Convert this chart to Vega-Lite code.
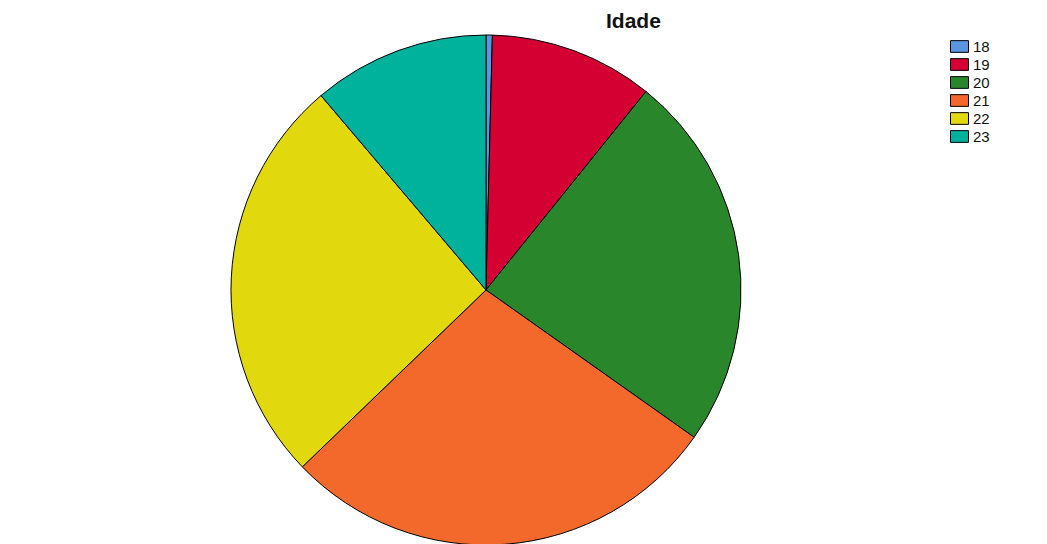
{
  "$schema": "https://vega.github.io/schema/vega-lite/v6.json",
  "autosize": "none",
  "width": 972,
  "height": 510,
  "padding": {"left": 0, "top": 35, "right": 75, "bottom": 0},
  "background": "white",
  "config": {"view": {"stroke": null}, "font": "Liberation Sans"},
  "title": {
    "text": "Idade",
    "anchor": "start",
    "dx": 606,
    "dy": 23,
    "fontSize": 21,
    "fontWeight": "bold",
    "font": "Liberation Sans",
    "color": "#111111",
    "baseline": "alphabetic",
    "offset": 7
  },
  "data": {
    "values": [
      {"idade": "18", "n": 1},
      {"idade": "19", "n": 26},
      {"idade": "20", "n": 60},
      {"idade": "21", "n": 70},
      {"idade": "22", "n": 65},
      {"idade": "23", "n": 28}
    ]
  },
  "mark": {"type": "arc", "outerRadius": 255, "stroke": "#000000", "strokeWidth": 1},
  "encoding": {
    "theta": {"field": "n", "type": "quantitative", "stack": true},
    "order": {"field": "idade", "type": "ordinal", "sort": "ascending"},
    "color": {
      "field": "idade",
      "type": "nominal",
      "scale": {
        "domain": ["18", "19", "20", "21", "22", "23"],
        "range": ["#5a97e2", "#d40032", "#2a862a", "#f2692b", "#e2d80e", "#00b29c"]
      },
      "legend": {
        "title": null,
        "orient": "none",
        "legendX": 950,
        "legendY": 2,
        "symbolType": "M-1,-0.65H1V0.65H-1Z",
        "symbolSize": 324,
        "symbolStrokeColor": "#000000",
        "symbolStrokeWidth": 1,
        "symbolOpacity": 1,
        "labelFontSize": 15,
        "labelFont": "Liberation Sans",
        "labelColor": "#111111",
        "rowPadding": 0,
        "labelOffset": 4
      }
    }
  }
}
